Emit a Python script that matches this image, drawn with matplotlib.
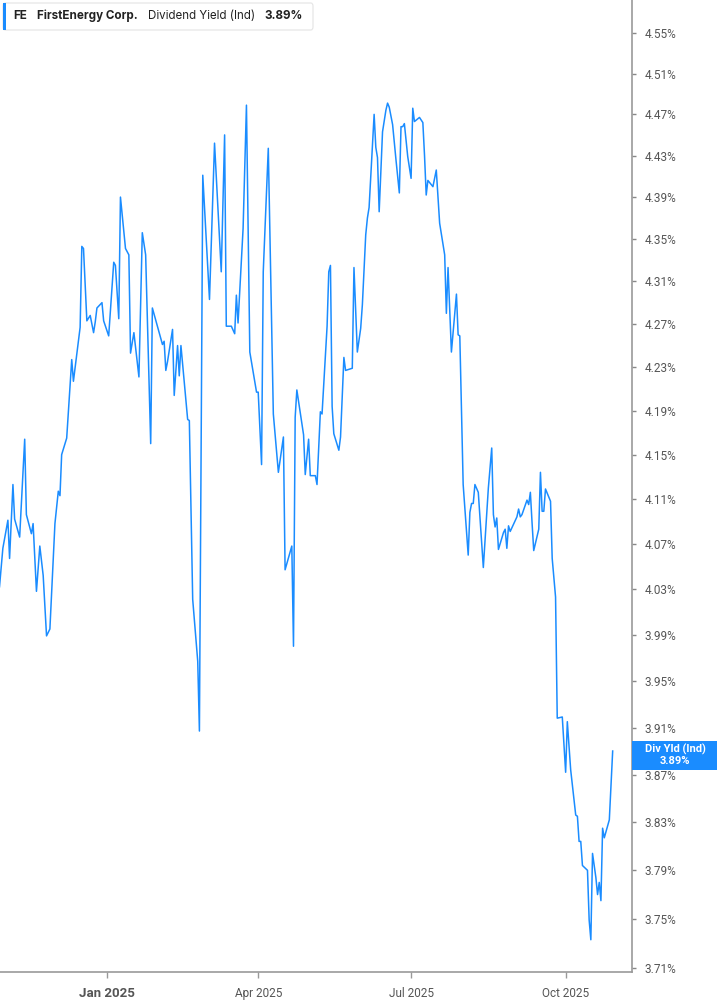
import matplotlib
matplotlib.use("Agg")
import matplotlib.pyplot as plt
import matplotlib.dates as mdates
import pandas as pd
from matplotlib.patches import Rectangle, FancyBboxPatch
from matplotlib.ticker import FixedLocator, FuncFormatter, NullLocator

plt.rcParams["font.family"] = ["Roboto", "DejaVu Sans"]

# FE dividend yield (Ind)
dates = [
    "2024-10-29", "2024-10-31", "2024-11-03", "2024-11-04", "2024-11-06", "2024-11-07",
    "2024-11-10", "2024-11-13", "2024-11-14", "2024-11-17", "2024-11-18", "2024-11-20",
    "2024-11-22", "2024-11-24", "2024-11-26", "2024-11-28",
    "2024-12-01", "2024-12-03", "2024-12-04", "2024-12-05", "2024-12-08", "2024-12-11",
    "2024-12-12", "2024-12-16", "2024-12-17", "2024-12-18", "2024-12-20", "2024-12-22",
    "2024-12-24", "2024-12-25", "2024-12-26", "2024-12-29", "2024-12-30",
    "2025-01-02", "2025-01-05", "2025-01-06", "2025-01-08", "2025-01-09", "2025-01-12",
    "2025-01-14", "2025-01-15", "2025-01-17", "2025-01-20", "2025-01-22", "2025-01-24",
    "2025-01-27", "2025-01-28",
    "2025-02-03", "2025-02-04", "2025-02-05", "2025-02-06", "2025-02-09", "2025-02-10",
    "2025-02-12", "2025-02-13", "2025-02-14", "2025-02-18", "2025-02-19", "2025-02-21",
    "2025-02-24", "2025-02-25", "2025-02-27",
    "2025-03-03", "2025-03-06", "2025-03-10", "2025-03-12", "2025-03-13", "2025-03-16",
    "2025-03-18", "2025-03-19", "2025-03-20", "2025-03-23", "2025-03-25", "2025-03-27",
    "2025-03-31",
    "2025-04-01", "2025-04-03", "2025-04-04", "2025-04-07", "2025-04-10", "2025-04-13",
    "2025-04-16", "2025-04-17", "2025-04-21", "2025-04-22", "2025-04-23", "2025-04-24",
    "2025-04-28", "2025-04-29",
    "2025-05-01", "2025-05-02", "2025-05-05", "2025-05-06", "2025-05-08", "2025-05-09",
    "2025-05-12", "2025-05-13", "2025-05-14", "2025-05-15", "2025-05-16", "2025-05-19",
    "2025-05-20", "2025-05-22", "2025-05-23", "2025-05-27", "2025-05-28", "2025-05-30",
    "2025-06-01", "2025-06-02", "2025-06-04", "2025-06-05", "2025-06-06", "2025-06-09",
    "2025-06-10", "2025-06-11", "2025-06-12", "2025-06-13", "2025-06-14", "2025-06-16",
    "2025-06-17", "2025-06-18", "2025-06-20", "2025-06-22", "2025-06-24", "2025-06-25",
    "2025-06-26", "2025-06-27", "2025-06-29",
    "2025-07-01", "2025-07-02", "2025-07-03", "2025-07-06", "2025-07-08", "2025-07-09",
    "2025-07-10", "2025-07-11", "2025-07-14", "2025-07-16", "2025-07-18", "2025-07-21",
    "2025-07-22", "2025-07-23", "2025-07-25", "2025-07-28", "2025-07-29", "2025-07-30",
    "2025-08-01", "2025-08-04", "2025-08-05", "2025-08-06", "2025-08-07", "2025-08-08",
    "2025-08-10", "2025-08-13", "2025-08-16", "2025-08-18", "2025-08-19", "2025-08-20",
    "2025-08-21", "2025-08-22", "2025-08-25", "2025-08-26", "2025-08-27", "2025-08-28",
    "2025-08-29",
    "2025-09-02", "2025-09-03", "2025-09-04", "2025-09-05", "2025-09-08", "2025-09-09",
    "2025-09-10", "2025-09-11", "2025-09-12", "2025-09-15", "2025-09-16", "2025-09-17",
    "2025-09-18", "2025-09-19", "2025-09-22", "2025-09-23", "2025-09-25", "2025-09-26",
    "2025-09-29",
    "2025-10-01", "2025-10-02", "2025-10-04", "2025-10-07", "2025-10-08", "2025-10-09",
    "2025-10-10", "2025-10-11", "2025-10-14", "2025-10-15", "2025-10-16", "2025-10-17",
    "2025-10-19", "2025-10-20", "2025-10-21", "2025-10-22", "2025-10-23", "2025-10-24",
    "2025-10-27", "2025-10-29",
]
yields = [
    4.032, 4.066, 4.091, 4.057, 4.123, 4.092,
    4.076, 4.164, 4.096, 4.079, 4.088, 4.028,
    4.068, 4.042, 3.989, 3.995,
    4.088, 4.117, 4.113, 4.150, 4.165, 4.237,
    4.217, 4.267, 4.343, 4.341, 4.273, 4.278,
    4.262, 4.272, 4.285, 4.290, 4.273,
    4.259, 4.328, 4.325, 4.275, 4.390, 4.341,
    4.335, 4.243, 4.262, 4.221, 4.356, 4.335,
    4.160, 4.285,
    4.251, 4.254, 4.227, 4.235, 4.265, 4.204,
    4.250, 4.222, 4.250, 4.182, 4.181, 4.021,
    3.967, 3.907, 4.411,
    4.293, 4.442, 4.319, 4.450, 4.268, 4.268,
    4.261, 4.297, 4.271, 4.360, 4.479, 4.244,
    4.207,
    4.207, 4.141, 4.319, 4.437, 4.187, 4.134,
    4.166, 4.047, 4.068, 3.980, 4.184, 4.209,
    4.168, 4.132,
    4.164, 4.131, 4.131, 4.123, 4.189, 4.187,
    4.268, 4.319, 4.325, 4.194, 4.169, 4.154,
    4.166, 4.239, 4.227, 4.229, 4.323, 4.244,
    4.266, 4.288, 4.354, 4.370, 4.380, 4.470,
    4.438, 4.428, 4.376, 4.414, 4.453, 4.474,
    4.481, 4.477, 4.460, 4.426, 4.394, 4.458,
    4.458, 4.461, 4.429,
    4.408, 4.476, 4.463, 4.467, 4.462, 4.430,
    4.392, 4.406, 4.400, 4.416, 4.365, 4.335,
    4.280, 4.323, 4.244, 4.298, 4.260, 4.259,
    4.123, 4.060, 4.098, 4.106, 4.106, 4.123,
    4.116, 4.049, 4.120, 4.156, 4.096, 4.085,
    4.093, 4.065, 4.080, 4.083, 4.066, 4.086,
    4.081,
    4.094, 4.101, 4.094, 4.096, 4.109, 4.105,
    4.116, 4.089, 4.064, 4.083, 4.134, 4.099,
    4.099, 4.119, 4.108, 4.057, 4.023, 3.918,
    3.919,
    3.872, 3.915, 3.874, 3.836, 3.835, 3.814,
    3.814, 3.794, 3.790, 3.749, 3.733, 3.804,
    3.784, 3.770, 3.780, 3.765, 3.825, 3.817,
    3.832, 3.890,
]
yticks = [3.71, 3.75, 3.79, 3.83, 3.87, 3.91, 3.95, 3.99, 4.03, 4.07, 4.11,
          4.15, 4.19, 4.23, 4.27, 4.31, 4.35, 4.39, 4.43, 4.47, 4.51, 4.55]
xtick_dates = ["2025-01-01", "2025-04-01", "2025-07-01", "2025-10-01"]
xtick_labels = ["Jan 2025", "Apr 2025", "Jul 2025", "Oct 2025"]
last_value = "3.89%"

BLUE = "#1a8cff"
W, H = 717, 1005

fig = plt.figure(figsize=(W / 100, H / 100), dpi=100)
ax = fig.add_axes([0, 33 / H, 632 / W, 1 - 33 / H])

ax.plot(pd.to_datetime(dates), yields, color=BLUE, lw=1.1)

# log scale, as in the source chart
ax.set_yscale("log")
ax.set_ylim(3.7068, 4.583)
jan1 = mdates.date2num(pd.Timestamp("2025-01-01"))
ax.set_xlim(jan1 - 63.7, jan1 + 312.5)

ax.yaxis.tick_right()
ax.yaxis.set_major_locator(FixedLocator(yticks))
ax.yaxis.set_minor_locator(NullLocator())
ax.yaxis.set_major_formatter(FuncFormatter(lambda v, p: f"{v:.2f}%"))
ax.tick_params(axis="y", direction="out", length=3, width=1, color="#888888",
               pad=6, labelsize=8.5, labelcolor="#555555")

ax.set_xticks([mdates.date2num(pd.Timestamp(d)) for d in xtick_dates])
ax.set_xticklabels(xtick_labels)
ax.tick_params(axis="x", direction="out", length=4, width=1, color="#999999",
               pad=7, labelsize=8.5, labelcolor="#555555")
ax.get_xticklabels()[0].set_fontweight("bold")
ax.get_xticklabels()[0].set_fontsize(9.5)

for s in ["left", "top"]:
    ax.spines[s].set_visible(False)
for s in ["right", "bottom"]:
    ax.spines[s].set_color("#999999")
    ax.spines[s].set_linewidth(1.2)


def px(x, y):
    # pixel position (from top-left) to figure fraction
    return x / W, 1 - y / H


# legend box at top-left
lfont = ["Inter", "DejaVu Sans"]
box = FancyBboxPatch(px(3, 30), 310 / W, 27 / H, boxstyle="round,pad=0,rounding_size=0.003",
                     transform=fig.transFigure, fc="white", ec="#e4e4e4", lw=0.8)
fig.add_artist(box)
fig.add_artist(Rectangle(px(3, 30), 3 / W, 27 / H, transform=fig.transFigure,
                         fc=BLUE, ec="none"))
fig.text(*px(13, 16), "FE", fontsize=8.4, fontweight="bold", color="#222222",
         va="center", family=lfont)
fig.text(*px(37, 16), "FirstEnergy Corp.", fontsize=8.4, fontweight="bold",
         color="#222222", va="center", family=lfont)
fig.text(*px(148, 16), "Dividend Yield (Ind)", fontsize=8.3, color="#222222",
         va="center", family=lfont)
fig.text(*px(264, 16), last_value, fontsize=8.4, fontweight="bold", color="#222222",
         va="center", family=lfont)

# last value flag on the right axis
fig.add_artist(Rectangle(px(632, 770), 85 / W, 29 / H, transform=fig.transFigure,
                         fc=BLUE, ec="none"))
fig.text(*px(675, 749), "Div Yld (Ind)", fontsize=8, fontweight="bold", color="white",
         ha="center", va="center")
fig.text(*px(675, 761), last_value, fontsize=8, fontweight="bold", color="white",
         ha="center", va="center")

fig.savefig("out.png", dpi=100)
